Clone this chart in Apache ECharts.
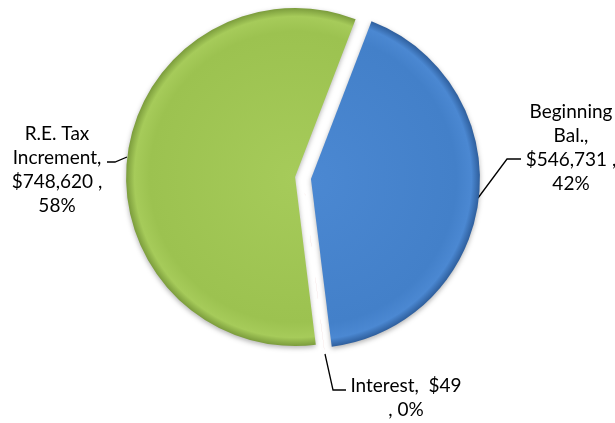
<!DOCTYPE html>
<html>
<head>
<meta charset="utf-8">
<script src="https://cdn.jsdelivr.net/npm/echarts@6/dist/echarts.min.js"></script>
<style>
  html, body { margin: 0; padding: 0; background: #fff; }
  #chart { width: 615px; height: 423px; }
</style>
</head>
<body>
<div id="chart"></div>
<script>
// data
const categories = ["Beginning\nBal.", "Interest", "R.E. Tax\nIncrement"];
const values = [546731, 49, 748620];
// how each label wraps between name / value / percent
const sepAfterName = [",\n", ",  ", ",\n"];
const sepAfterValue = [" ,\n", "\n, ", " ,\n"];

const colors = [
  { base: "#4380c9", light: "#4b88d2", dark: "#2e5e9c" },
  { base: "#c0504d", light: "#cc5a57", dark: "#983c3a" },
  { base: "#9cc250", light: "#a6cb5a", dark: "#7b9c3c" },
];

// label anchors: text centre + leader line points
const labelSpots = [
  { x: 571, y: 148, line: [[478, 198], [507, 159], [521, 159]] },
  { x: 406, y: 398, line: [[325, 354], [333, 390], [346, 390]] },
  { x: 57, y: 170, line: [[127, 157], [115, 162], [107, 162]] },
];

const cx = 303, cy = 178, R = 169, explode = 8, startAngle = 69;
const total = values.reduce((a, b) => a + b, 0);

const chart = echarts.init(document.getElementById("chart"));

// one pie per slice so every slice can be pulled out on its own
let acc = 0;
const series = values.map((val, k) => {
  const mid = (startAngle - ((acc + val / 2) / total) * 360) * Math.PI / 180;
  acc += val;
  const c = [cx + explode * Math.cos(mid), cy - explode * Math.sin(mid)];
  return {
    type: "pie",
    center: c,
    radius: R,
    startAngle,
    clockwise: true,
    avoidLabelOverlap: false,
    silent: true,
    emphasis: { disabled: true },
    label: {
      fontFamily: "Lato",
      fontSize: 19,
      lineHeight: 24,
      color: "#000",
      align: "center",
      formatter: (p) => {
        const i = p.dataIndex;
        const money = "$" + p.value.toLocaleString("en-US");
        const pct = Math.round((p.value / total) * 100) + "%";
        return p.name + sepAfterName[i] + money + sepAfterValue[i] + pct;
      },
    },
    labelLine: { lineStyle: { color: "#000", width: 1.3 } },
    labelLayout: (params) => {
      const s = labelSpots[params.dataIndex];
      return {
        x: s.x,
        y: s.y,
        align: "center",
        verticalAlign: "middle",
        labelLinePoints: s.line,
      };
    },
    data: values.map((v, i) => {
      const own = i === k;
      return {
        name: categories[i],
        value: v,
        label: { show: own },
        labelLine: { show: own },
        itemStyle: own
          ? {
              color: {
                type: "radial",
                x: c[0], y: c[1], r: R,
                global: true,
                colorStops: [
                  { offset: 0, color: colors[i].light },
                  { offset: 0.86, color: colors[i].base },
                  { offset: 0.95, color: colors[i].light },
                  { offset: 1, color: colors[i].dark },
                ],
              },
              shadowBlur: 5,
              shadowColor: "rgba(0,0,0,0.3)",
              shadowOffsetY: 2,
            }
          : { color: "rgba(0,0,0,0)", borderWidth: 0 },
      };
    }),
  };
});

chart.setOption({
  backgroundColor: "#fff",
  animation: false,
  series,
});
</script>
</body>
</html>
